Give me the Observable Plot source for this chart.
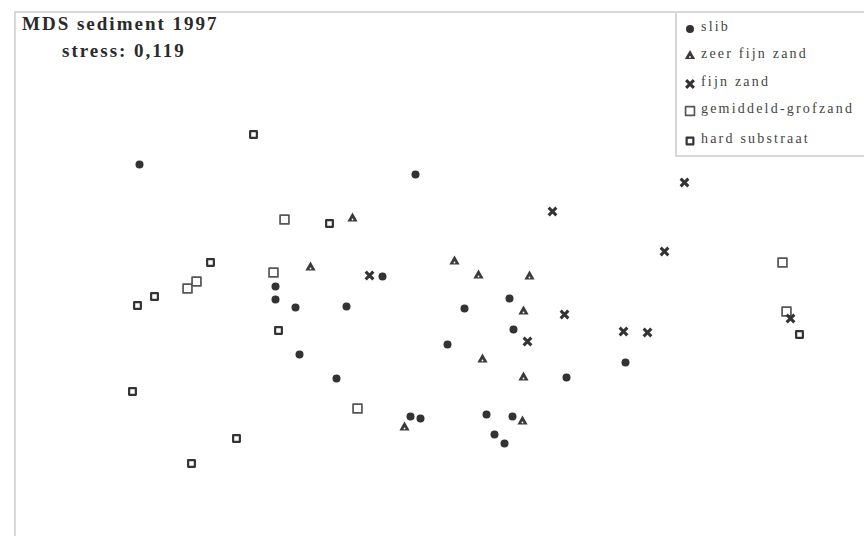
<!DOCTYPE html>
<html><head><meta charset="utf-8">
<script src="https://cdn.jsdelivr.net/npm/d3@7"></script>
<script src="https://cdn.jsdelivr.net/npm/@observablehq/plot@0.6"></script>
<style>
html,body{margin:0;padding:0;background:#fff;}
#wrap{position:relative;width:864px;height:536px;overflow:hidden;background:#fff;}
#wrap svg{display:block;}
#frame{position:absolute;left:14px;top:11px;width:900px;height:600px;border-left:2px solid #d8d8d8;border-top:2px solid #d8d8d8;pointer-events:none;}
.title{position:absolute;font-family:"Liberation Serif","Times New Roman",serif;font-weight:bold;font-size:19px;letter-spacing:2px;color:#2a2a2a;line-height:1;white-space:nowrap;}
#legend{position:absolute;left:675px;top:11px;width:220px;height:142px;border-left:2px solid #d8d8d8;border-bottom:2px solid #d8d8d8;border-top:2px solid #d8d8d8;background:#fff;}
.row{position:absolute;left:0;height:18px;display:flex;align-items:center;white-space:nowrap;}
.row svg{width:14px;height:14px;margin-left:6px;margin-right:4px;margin-top:3px;}
.row span{font-family:"Liberation Serif","Times New Roman",serif;font-size:14px;letter-spacing:2.2px;color:#444;line-height:18px;}
</style>
</head><body>
<div id="wrap"></div>
<script>
// MDS coordinates (dimension 1, dimension 2)
const categories = ["slib", "zeer fijn zand", "fijn zand", "gemiddeld-grofzand", "hard substraat"];
const slib = [[-3.01,1.36],[-0.25,1.26],[-0.58,0.24],[-1.65,0.14],[-1.65,0.01],[-1.45,-0.07],[-0.94,-0.06],
  [0.24,-0.08],[0.69,0.02],[0.73,-0.29],[0.07,-0.44],[-1.41,-0.54],[-1.04,-0.78],[1.26,-0.77],[1.85,-0.62],
  [-0.30,-1.16],[-0.20,-1.18],[0.46,-1.14],[0.72,-1.16],[0.54,-1.34],[0.64,-1.43]];
const zeerFijnZand = [[-0.88,0.82],[-1.30,0.33],[0.14,0.39],[0.38,0.25],[0.89,0.24],[0.83,-0.11],
  [0.42,-0.59],[0.83,-0.77],[-0.36,-1.27],[0.82,-1.21]];
const fijnZand = [[2.44,1.18],[1.12,0.89],[-0.71,0.25],[2.24,0.49],[1.24,-0.14],[0.87,-0.41],
  [1.83,-0.31],[2.07,-0.32],[3.50,-0.18]];
const gemiddeldGrofZand = [[-1.56,0.81],[-1.67,0.28],[-2.53,0.12],[-2.44,0.19],[-0.83,-1.08],[3.46,-0.11],[3.42,0.38]];
const hardSubstraat = [[-1.87,1.66],[-1.11,0.77],[-2.30,0.38],[-2.86,0.04],[-3.03,-0.05],[-1.62,-0.30],
  [-3.08,-0.91],[-2.04,-1.38],[-2.49,-1.63],[3.59,-0.34]];
const titleText = "MDS sediment 1997";
const stressText = "stress: 0,119";

const toRows = arr => arr.map(([x, y]) => ({x, y}));
const ink = "#333";

const styles = {
  "slib": {symbol: "circle", r: 4, fill: ink},
  "zeer fijn zand": {symbol: "triangle", r: 3.8, fill: "#3a3a3a"},
  "fijn zand": {symbol: "times", r: 3.6, stroke: ink, strokeWidth: 3},
  "gemiddeld-grofzand": {symbol: "square", r: 5, stroke: "#555", strokeWidth: 1.7, fill: "white"},
  "hard substraat": {symbol: "square", r: 3.8, stroke: ink, strokeWidth: 2.2, fill: "white"}
};

const plot = Plot.plot({
  width: 864, height: 536, margin: 0,
  x: {domain: [-4.40, 4.24], axis: null},
  y: {domain: [-2.36, 3.00], axis: null},
  marks: [
    Plot.dot(toRows(gemiddeldGrofZand), {x: "x", y: "y", ...styles["gemiddeld-grofzand"], strokeLinejoin: "round"}),
    Plot.dot(toRows(hardSubstraat), {x: "x", y: "y", ...styles["hard substraat"], strokeLinejoin: "round"}),
    Plot.dot(toRows(zeerFijnZand), {x: "x", y: "y", ...styles["zeer fijn zand"]}),
    Plot.dot(toRows(zeerFijnZand), {x: "x", y: "y", r: 0.9, fill: "white", dy: 1}),
    Plot.dot(toRows(fijnZand), {x: "x", y: "y", ...styles["fijn zand"]}),
    Plot.dot(toRows(slib), {x: "x", y: "y", ...styles["slib"]})
  ]
});

const wrap = document.getElementById("wrap");
wrap.appendChild(plot);

const frame = document.createElement("div");
frame.id = "frame";
wrap.appendChild(frame);

const t1 = document.createElement("div");
t1.className = "title"; t1.textContent = titleText;
t1.style.left = "22px"; t1.style.top = "14px";
wrap.appendChild(t1);
const t2 = document.createElement("div");
t2.className = "title"; t2.textContent = stressText;
t2.style.left = "62px"; t2.style.top = "41px";
wrap.appendChild(t2);

// legend
const legend = document.createElement("div");
legend.id = "legend";
const symMap = {circle: d3.symbolCircle, triangle: d3.symbolTriangle, times: d3.symbolTimes, square: d3.symbolSquare};
const rowTops = [5, 32, 60, 87, 117];
categories.forEach((c, i) => {
  const st = styles[c];
  const row = document.createElement("div");
  row.className = "row";
  row.style.top = rowTops[i] + "px";
  const path = d3.symbol(symMap[st.symbol], Math.PI * st.r * st.r)();
  const svg = d3.create("svg").attr("viewBox", "-7 -7 14 14");
  svg.append("path").attr("d", path)
    .attr("fill", st.fill || "none")
    .attr("stroke", st.stroke || "none")
    .attr("stroke-width", st.strokeWidth || 0)
    .attr("stroke-linejoin", "round");
  if (st.symbol === "triangle") svg.append("circle").attr("cy", 1).attr("r", 0.9).attr("fill", "white");
  row.appendChild(svg.node());
  const span = document.createElement("span");
  span.textContent = c;
  row.appendChild(span);
  legend.appendChild(row);
});
wrap.appendChild(legend);
</script>
</body></html>
